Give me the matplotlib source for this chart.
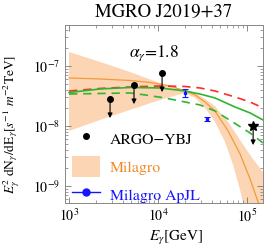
import matplotlib
matplotlib.use('Agg')
import matplotlib.pyplot as plt
from matplotlib.lines import Line2D
from matplotlib.patches import Patch

plt.rcParams['font.family'] = 'STIXGeneral'
plt.rcParams['mathtext.fontset'] = 'stix'

# Milagro fit (orange) en band
mil_E = [1000, 2230, 4840, 8130, 13650, 20100, 26100, 33700, 43600, 61200, 83400, 108000, 133000, 148000]
mil_F = [6.31e-8, 6.07e-8, 5.73e-8, 5.31e-8, 4.64e-8, 3.83e-8, 3.29e-8, 2.51e-8, 1.78e-8, 8.25e-9, 3.42e-9, 1.31e-9, 5.41e-10, 3.41e-10]

band_up_E = [1000, 2230, 4840, 10500, 20100, 26100, 33700, 43600, 61200, 83400, 114000, 151000]
band_up_F = [1.71e-7, 1.17e-7, 7.94e-8, 5.21e-8, 3.98e-8, 3.55e-8, 2.82e-8, 2.15e-8, 1.17e-8, 5.85e-9, 2.93e-9, 1.71e-9]
band_lo_E = [1000, 2230, 4840, 10500, 20100, 26100, 33700, 43600, 56600, 69700, 83400, 97500, 151000]
band_lo_F = [8.25e-9, 1.26e-8, 1.85e-8, 2.71e-8, 3.55e-8, 2.93e-8, 2.0e-8, 1.17e-8, 5.41e-9, 2.24e-9, 8.58e-10, 3.29e-10, 1e-11]

# model curves
mod_E = [1000, 2230, 4840, 10500, 20100, 29600, 43600, 73300, 108000, 151000]
green_F = [3.61e-8, 4.14e-8, 4.38e-8, 4.30e-8, 3.83e-8, 3.41e-8, 2.93e-8, 2.07e-8, 1.65e-8, 1.26e-8]
red_F = [3.83e-8, 4.22e-8, 4.47e-8, 4.64e-8, 4.55e-8, 4.30e-8, 3.83e-8, 3.04e-8, 2.51e-8, 2.0e-8]
gdash_E = [1000, 2230, 4840, 7160, 11900, 20100, 29600, 43600, 73300, 108000, 151000]
gdash_F = [3.41e-8, 3.48e-8, 3.55e-8, 3.29e-8, 2.93e-8, 2.51e-8, 2.24e-8, 1.78e-8, 1.10e-8, 7.64e-9, 5.21e-9]

# ARGO-YBJ bovengrenzen
argo_E = [2890, 5370, 11100]
argo_F = [2.82e-8, 4.82e-8, 7.64e-8]
star_E = [117000]
star_F = [1.0e-8]
arrow_fac = 0.48

# Milagro ApJL punten
apjl_E = [20100, 35600]
apjl_F = [3.55e-8, 1.31e-8]
apjl_lo = [0.51e-8, 0.09e-8]
apjl_hi = [0.51e-8, 0.11e-8]

orange = '#f39a3c'
green = '#2fb52f'
red = '#ff2a2a'
blue = '#1414ff'

fig = plt.figure(figsize=(2.66, 2.52), dpi=100)
ax = fig.add_axes([65/266, 49/252, 198/266, 178/252])
ax.set_xscale('log')
ax.set_yscale('log')

ax.fill(band_up_E + band_lo_E[::-1], band_up_F + band_lo_F[::-1],
        color='#fcd6b4', lw=0, zorder=1)
ax.plot(mil_E, mil_F, color=orange, lw=0.9, zorder=2)
ax.plot(mod_E, red_F, color=red, lw=1.2, ls=(0, (5, 3.5)), zorder=3)
ax.plot(mod_E, green_F, color=green, lw=1.2, zorder=3)
ax.plot(gdash_E, gdash_F, color=green, lw=1.2, ls=(0, (5, 3.5)), zorder=3)

for E, F in zip(argo_E + star_E, argo_F + star_F):
    ax.annotate('', xy=(E, F * arrow_fac), xytext=(E, F),
                arrowprops=dict(arrowstyle='-|>', color='k', lw=0.8,
                                mutation_scale=7, shrinkA=0, shrinkB=0), zorder=4)
ax.plot(argo_E, argo_F, 'o', color='k', ms=4, zorder=5)
ax.plot(star_E, star_F, '*', color='k', ms=7, zorder=5)

ax.errorbar(apjl_E, apjl_F, yerr=[apjl_lo, apjl_hi], fmt='s', color=blue,
            ms=2, capsize=2, elinewidth=0.8, capthick=0.8, zorder=5)

ax.set_xlim(901, 1.51e5)
ax.set_ylim(5.2e-10, 4.82e-7)

ax.tick_params(which='both', direction='in', top=True, right=True,
               labelsize=10, colors='#777777', labelcolor='k')
ax.tick_params(which='major', length=4, width=0.6)
ax.tick_params(which='minor', length=2, width=0.5)
for s in ax.spines.values():
    s.set_color('#888888')
    s.set_linewidth(0.7)

fig.text(164/266, 1 - 12/252, 'MGRO J2019+37', ha='center', va='center', fontsize=13.5)
ax.text(0.45, 0.843, r'$\alpha_\gamma$=1.8', transform=ax.transAxes,
        ha='center', va='center', fontsize=12.5)
fig.text(176/266, 1 - 238/252, r'$E_\gamma$[GeV]', ha='center', va='center', fontsize=11)
fig.text(12/266, 1 - 124/252,
         r'$E_\gamma^2$ dN$_\gamma$/dE$_\gamma$[$s^{-1}$ $m^{-2}$TeV]',
         rotation=90, ha='center', va='center', fontsize=9.6)

handles = [Line2D([], [], marker='o', color='k', ls='none', ms=4),
           Patch(color='#fcd6b4', lw=0),
           Line2D([], [], marker='o', color=blue, lw=1, ms=5)]
ax.legend(handles, ['ARGO\u2212YBJ', 'Milagro', 'Milagro ApJL'],
          loc='upper left', bbox_to_anchor=(0.035, 0.419), frameon=False,
          fontsize=11.3, handlelength=1.8, handleheight=1.7, labelspacing=0.42,
          handletextpad=0.6, borderpad=0, borderaxespad=0,
          labelcolor=['k', '#f08a28', blue])

fig.savefig('out.png', dpi=100)
